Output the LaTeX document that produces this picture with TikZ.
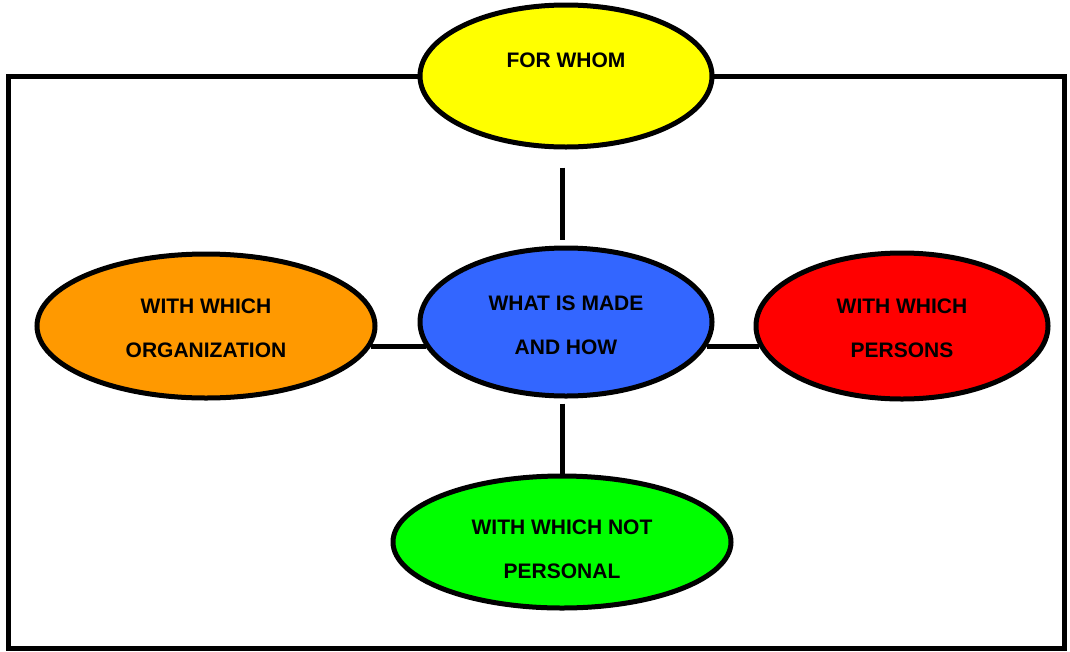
\documentclass[tikz,border=0pt]{standalone}
\usepackage{fontspec}
\setmainfont{Liberation Sans}
\usetikzlibrary{shapes.geometric,calc}
\definecolor{cyellow}{HTML}{FFFF00}
\definecolor{cblue}{HTML}{3366FF}
\definecolor{corange}{HTML}{FF9900}
\definecolor{cred}{HTML}{FF0000}
\definecolor{cgreen}{HTML}{00FF00}
\begin{document}
\begin{tikzpicture}[x=1pt,y=-1pt,
  oval/.style={ellipse,draw=black,line width=5pt,inner sep=0pt},
  txt/.style={align=center,inner sep=0pt,font=\fontsize{21}{44}\selectfont\bfseries},
  link/.style={line width=5pt}]
\useasboundingbox (0,0) rectangle (1070,651);
\draw[line width=5pt] (8,76) rectangle (1064,648);
\node[oval,fill=cyellow,minimum width=292pt,minimum height=142pt,
  label={[txt,yshift=16pt]center:FOR WHOM}] (whom) at (566,76) {};
\node[oval,fill=cblue,minimum width=292pt,minimum height=148pt,
  label={[txt,yshift=-3pt]center:WHAT IS MADE\\AND HOW}] (what) at (566,322) {};
\node[oval,fill=corange,minimum width=338pt,minimum height=144pt,
  label={[txt,yshift=-2pt]center:WITH WHICH\\ORGANIZATION}] (org) at (206,326) {};
\node[oval,fill=cred,minimum width=292pt,minimum height=146pt,
  label={[txt,yshift=-2.5pt]center:WITH WHICH\\PERSONS}] (pers) at (902,326) {};
\node[oval,fill=cgreen,minimum width=338pt,minimum height=132pt,
  label={[txt,yshift=-7pt]center:WITH WHICH NOT\\PERSONAL}] (notp) at (562,542) {};
\draw[link] ($(whom.south)+(-4,18)$) -- ($(what.north)+(-4,-6)$);
\draw[link] ($(what.south)+(-4,5)$) -- (notp.north);
\draw[link] (org.-7) -- (org.-7 -| what.190);
\draw[link] (what.-10) -- (what.-10 -| pers.188);
\end{tikzpicture}
\end{document}
